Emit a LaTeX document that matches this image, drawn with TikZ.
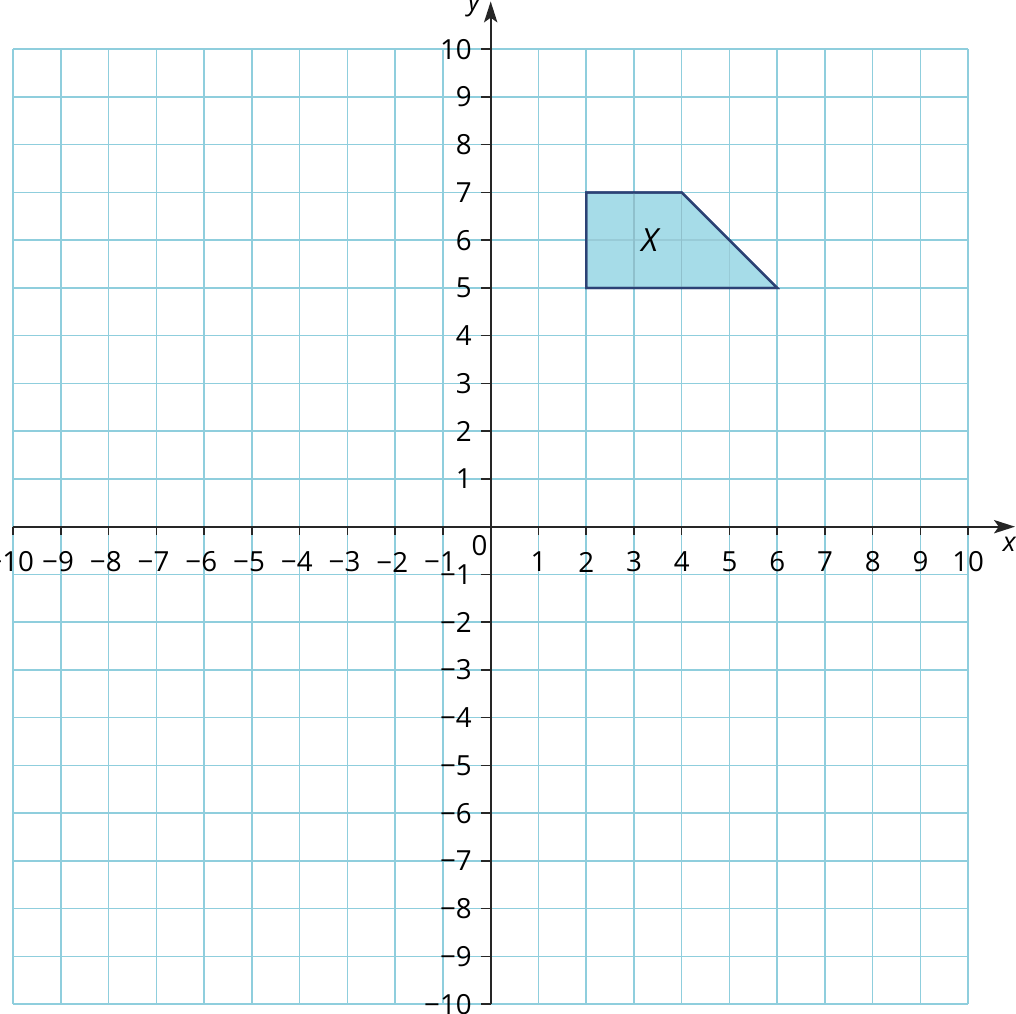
\documentclass[tikz,border=0pt]{standalone}
\usepackage{fontspec}
\setmainfont{Open Sans}
\usetikzlibrary{arrows.meta}
\definecolor{gridc}{HTML}{8FCEDD}
\definecolor{shapefill}{HTML}{A6DCE8}
\definecolor{shapeedge}{HTML}{2C4275}
\begin{document}
\begin{tikzpicture}[
  lab/.style={font=\fontsize{16.5}{16.5}\selectfont, inner sep=0.5pt},
  axlab/.style={font=\fontsize{16}{16}\selectfont\itshape, inner sep=0pt},
  axisline/.style={black!85, line width=1pt},
  tickline/.style={black!85, line width=0.9pt},
  gridline/.style={gridc, line width=0.9pt},
  shapeline/.style={draw=shapeedge, fill=shapefill, line width=1.3pt, line join=miter},
  arrowtip/.style={-{Stealth[length=0.44cm, width=0.28cm, inset=0.1cm]}}
]
\useasboundingbox (-10.276,-10.205) rectangle (11.001,11.03);
% grid
\draw[gridline] (-10,-10) grid (10,10);
% shape X
\draw[shapeline] (2,5) -- (2,7) -- (4,7) -- (6,5) -- cycle;
\draw[gridline, draw=gridc!80!black!90, opacity=0.35] (2,5) grid (4,7);
\draw[gridline, draw=gridc!80!black!90, opacity=0.35] (4,5) -- (4,7) (5,5) -- (5,6) (4,6) -- (5,6) (3,5) -- (3,7);
\draw[draw=shapeedge, line width=1.3pt, line join=miter] (2,5) -- (2,7) -- (4,7) -- (6,5) -- cycle;
\node[font=\fontsize{19}{19}\selectfont\itshape, inner sep=0pt] (shapeX) at (3.33,6) {X};
% axes
\coordinate (xstart) at (-10,0);
\coordinate (xend) at (10.98,0);
\coordinate (ystart) at (0,-10);
\coordinate (yend) at (0,11.0);
\draw[axisline, arrowtip] (xstart) -- (xend);
\draw[axisline, arrowtip] (ystart) -- (yend);
\node[axlab, anchor=base] (xlabel) at (10.86,-0.52) {x};
\node[axlab, anchor=base] (ylabel) at (-0.35,10.82) {y};
% y ticks and labels
\foreach \i in {-10,...,-1,1,2,...,10} {
  \coordinate (yt\i) at (-0.2,\i);
  \draw[tickline] (0,\i) -- (yt\i);
  \ifnum\i<0
    \node[lab, anchor=east] (yl\i) at (-0.372,\i) {−\the\numexpr-\i\relax};
  \else
    \node[lab, anchor=east] (yl\i) at (-0.372,\i) {\i};
  \fi
}
% x ticks and labels
\foreach \i in {-10,...,-1,1,2,...,10} {
  \coordinate (xt\i) at (\i,-0.175);
  \draw[tickline] (\i,0) -- (xt\i);
  \ifnum\i<0
    \node[lab] (xl\i) at (\i-0.06,-0.74) {−\the\numexpr-\i\relax};
  \else
    \node[lab] (xl\i) at (\i,-0.74) {\i};
  \fi
}
\node[font=\fontsize{16.5}{16.5}\selectfont, inner sep=0pt] (origin) at (-0.235,-0.39) {0};
\end{tikzpicture}
\end{document}
